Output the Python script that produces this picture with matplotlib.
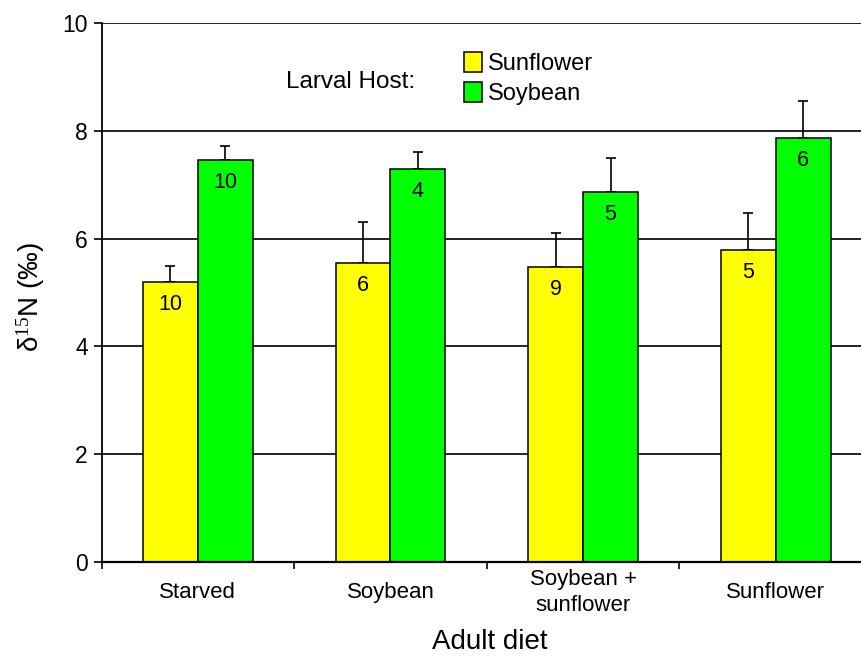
import matplotlib
matplotlib.use("Agg")
import matplotlib.pyplot as plt
import numpy as np
from matplotlib.patches import Patch

plt.rcParams['font.family'] = ['Liberation Sans', 'DejaVu Sans']
plt.rcParams['mathtext.fontset'] = 'custom'
plt.rcParams['mathtext.rm'] = 'Liberation Serif'
plt.rcParams['mathtext.it'] = 'Liberation Serif:italic'

categories = ['Starved', 'Soybean', 'Soybean +\nsunflower', 'Sunflower']
sunflower_mean = [5.20, 5.55, 5.48, 5.79]
sunflower_se = [0.30, 0.76, 0.63, 0.68]
sunflower_n = [10, 6, 9, 5]
soybean_mean = [7.46, 7.29, 6.86, 7.87]
soybean_se = [0.26, 0.31, 0.64, 0.68]
soybean_n = [10, 4, 5, 6]
series_names = ['Sunflower', 'Soybean']
yticks = [0, 2, 4, 6, 8, 10]

W, H = 861, 658
fig = plt.figure(figsize=(W / 100, H / 100), dpi=100)
ax = fig.add_axes([101.6 / W, (H - 562) / H, 770.4 / W, 539 / H])

x = np.arange(len(categories))
w = 0.285
yellow = '#FFFF00'
green = '#00FF00'

ax.set_axisbelow(True)
ax.yaxis.grid(True, color='#222222', linewidth=1.4)

ax.bar(x - w / 2, sunflower_mean, w, color=yellow, edgecolor='black', linewidth=1.1, zorder=2)
ax.bar(x + w / 2, soybean_mean, w, color=green, edgecolor='black', linewidth=1.1, zorder=2)
ax.errorbar(x - w / 2, sunflower_mean, yerr=[np.zeros(len(x)), sunflower_se], fmt='none',
            ecolor='black', elinewidth=1.2, capsize=3.8, capthick=1.2, zorder=1.5)
ax.errorbar(x + w / 2, soybean_mean, yerr=[np.zeros(len(x)), soybean_se], fmt='none',
            ecolor='black', elinewidth=1.2, capsize=3.8, capthick=1.2, zorder=1.5)

for xi, m, n in zip(x - w / 2, sunflower_mean, sunflower_n):
    ax.text(xi, m - 0.42, str(n), ha='center', va='center', fontsize=15.5, zorder=3)
for xi, m, n in zip(x + w / 2, soybean_mean, soybean_n):
    ax.text(xi, m - 0.42, str(n), ha='center', va='center', fontsize=15.5, zorder=3)

ax.set_xlim(-0.5, 3.5)
ax.set_ylim(0, 10)
ax.set_yticks(yticks)
ax.set_yticklabels([str(t) for t in yticks], fontsize=16.5)
ax.tick_params(axis='y', length=6, width=1.2, pad=4)

ax.set_xticks(x)
ax.set_xticklabels(categories, fontsize=16, va='center', linespacing=1.35)
ax.tick_params(axis='x', which='major', length=0, pad=22)
ax.set_xticks([-0.5, 0.5, 1.5, 2.5], minor=True)
ax.tick_params(axis='x', which='minor', length=5, width=1.2, direction='out')

for s in ['top', 'right']:
    ax.spines[s].set_visible(False)
ax.spines['left'].set_linewidth(1.3)
ax.spines['bottom'].set_linewidth(1.6)

ax.set_xlabel('Adult diet', fontsize=20, labelpad=0)
ax.xaxis.set_label_coords((490 - 101.6) / 770.4, -(642 - 562) / 539, transform=ax.transAxes)
ax.xaxis.label.set_va('center')
ax.set_ylabel('\u03b4$^{15}$N (\u2030)', fontsize=20)
ax.yaxis.set_label_coords((31 - 101.6) / 770.4, (562 - 297) / 539)
ax.yaxis.label.set_va('center')

ax.text((285.6 - 101.6) / 770.4, (562 - 82) / 539, 'Larval Host:', transform=ax.transAxes,
        ha='left', va='center', fontsize=17.5)
handles = [Patch(facecolor=yellow, edgecolor='black', linewidth=1.1),
           Patch(facecolor=green, edgecolor='black', linewidth=1.1)]
ax.legend(handles, series_names, loc='upper left',
          bbox_to_anchor=((464 - 101.6) / 770.4, (562 - 52) / 539),
          frameon=False, fontsize=17, handlelength=0.75, handleheight=0.9,
          handletextpad=0.25, labelspacing=0.3, borderpad=0, borderaxespad=0)

fig.savefig('out.png', dpi=100)
